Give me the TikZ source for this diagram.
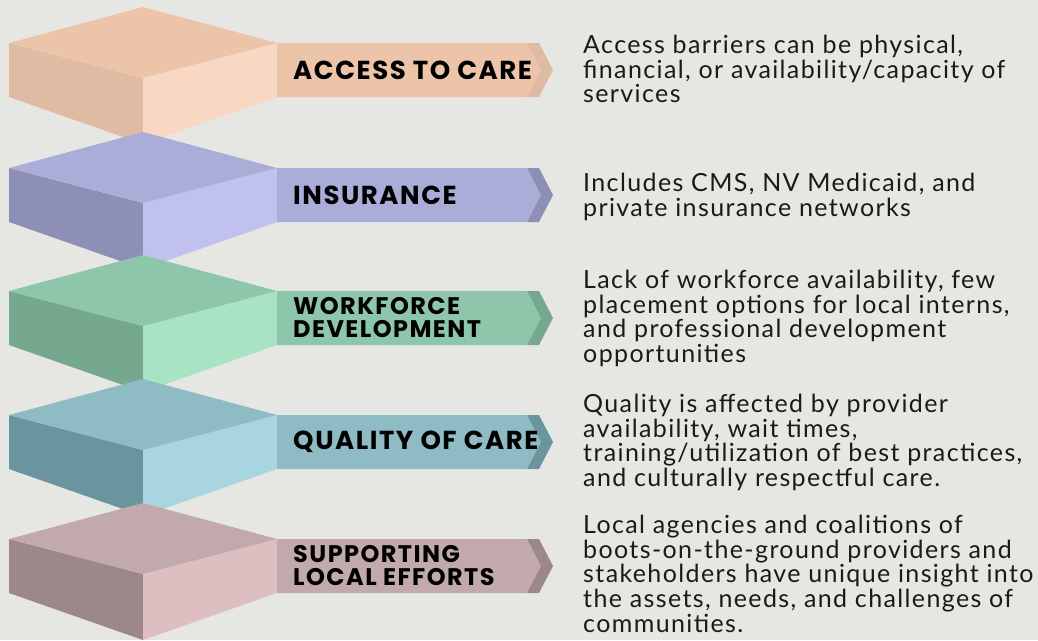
\documentclass[tikz,border=0pt]{standalone}
\usepackage{fontspec}
\newfontfamily\descfont{Lato}[LetterSpace=5.5]
\newfontfamily\labfont{Poppins}[LetterSpace=6]
\definecolor{bg}{HTML}{E6E7E3}
\definecolor{peT}{HTML}{ECC4AA}\definecolor{peL}{HTML}{DFBBA4}\definecolor{peR}{HTML}{F8D8C2}
\definecolor{laT}{HTML}{AAADD8}\definecolor{laL}{HTML}{8D8FB6}\definecolor{laR}{HTML}{C0C1EE}
\definecolor{grT}{HTML}{8DC6AA}\definecolor{grL}{HTML}{76A88F}\definecolor{grR}{HTML}{A8E4C4}
\definecolor{blT}{HTML}{8FBBC5}\definecolor{blL}{HTML}{6A949E}\definecolor{blR}{HTML}{A8D5E0}
\definecolor{mvT}{HTML}{C2AAAC}\definecolor{mvL}{HTML}{9C8789}\definecolor{mvR}{HTML}{DDBFC2}
\definecolor{ink}{HTML}{1A1A1A}
\newcommand\drawblock[2]{%
  \fill[#2L] (9,#1+36) -- (143,#1+71) -- (143,#1+137) -- (9,#1+90) -- cycle;
  \fill[#2R] (277,#1+36) -- (143,#1+71) -- (143,#1+137) -- (277,#1+90) -- cycle;
  \fill[#2T] (143,#1) -- (277,#1+36) -- (143,#1+71) -- (9,#1+36) -- cycle;
  \fill[#2T] (277,#1+36) -- (527,#1+36) -- (541,#1+63) -- (527,#1+90) -- (277,#1+90) -- cycle;
  \fill[#2L] (527,#1+36) -- (539,#1+36) -- (553,#1+63) -- (539,#1+90) -- (527,#1+90) -- (541,#1+63) -- cycle;
}
\tikzset{
  lab/.style={anchor=west, inner sep=0pt, align=left, text=black,
    font=\labfont\bfseries\fontsize{26}{23}\selectfont},
  labtwo/.style={lab, font=\labfont\bfseries\fontsize{24}{23}\selectfont},
  desc/.style={anchor=north west, inner sep=0pt, align=left, text=ink,
    font=\descfont\fontsize{25}{24.8}\selectfont},
}
\newcommand\st{\rule{0pt}{20pt}}
\begin{document}
\begin{tikzpicture}[x=1pt,y=-1pt]
\fill[bg] (0,0) rectangle (1038,640);
\useasboundingbox (0,0) rectangle (1038,640);

\drawblock{7}{pe}
\drawblock{132}{la}
\drawblock{255}{gr}
\drawblock{379}{bl}
\drawblock{503}{mv}

\node[lab] (lab1) at (293,70) {ACCESS TO CARE};
\node[lab] (lab2) at (293,195) {INSURANCE};
\node[labtwo] (lab3) at (293,318) {WORKFORCE\\DEVELOPMENT};
\node[lab] (lab4) at (293,442) {QUALITY OF CARE};
\node[labtwo] (lab5) at (293,566) {SUPPORTING\\LOCAL EFFORTS};

\node[desc] (desc1) at (583,33) {\st Access barriers can be physical,\\financial, or availability/capacity of\\services};
\node[desc] (desc2) at (583,171) {\st Includes CMS, NV Medicaid, and\\private insurance networks};
\node[desc] (desc3) at (583,268) {\st Lack of workforce availability, few\\placement options for local interns,\\and professional development\\opportunities};
\node[desc] (desc4) at (583,392) {\st Quality is affected by provider\\availability, wait times,\\training/utilization of best practices,\\and culturally respectful care.};
\node[desc] (desc5) at (583,513) {\st Local agencies and coalitions of\\boots-on-the-ground providers and\\stakeholders have unique insight into\\the assets, needs, and challenges of\\communities.};
\end{tikzpicture}
\end{document}
